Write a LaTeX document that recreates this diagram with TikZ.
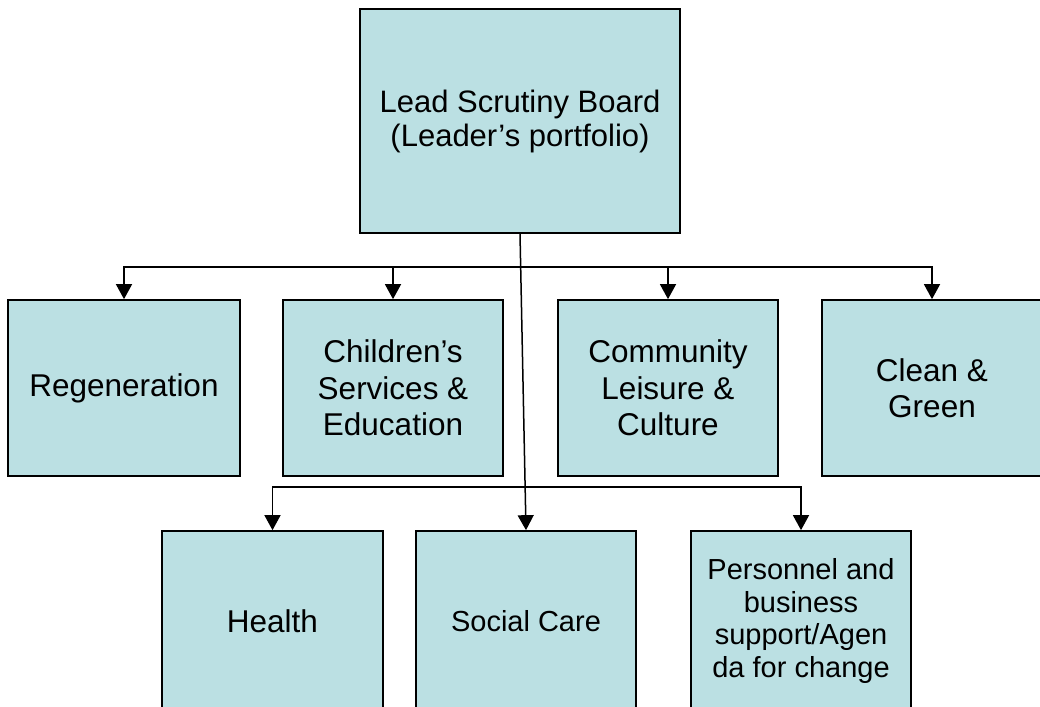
\documentclass[tikz,border=0pt]{standalone}
\usepackage{fontspec}
\setmainfont{Liberation Sans}
\usetikzlibrary{arrows.meta}
\definecolor{boxfill}{RGB}{187,224,227}
\tikzset{
  unitbox/.style={draw=black, line width=1.7pt, fill=boxfill, rectangle,
    minimum width=220pt, minimum height=176pt, align=center, inner sep=0pt,
    font=\fontsize{31.5pt}{36.5pt}\selectfont},
  lowbox/.style={unitbox, minimum height=180pt},
  conn/.style={draw=black, line width=1.5pt,
    -{Triangle[width=16pt,length=15pt]}}
}
\begin{document}
\begin{tikzpicture}[x=1pt,y=-1pt]
  \useasboundingbox (0,0) rectangle (1040,706);
  \clip (0,0) rectangle (1040,706);

  % top board
  \node[unitbox, minimum width=320pt, minimum height=224pt,
        font=\fontsize{31pt}{34pt}\selectfont] (top) at (520,121)
        {Lead Scrutiny Board\\(Leader’s portfolio)};

  % first row of boards
  \node[unitbox, minimum width=232pt] (regen) at (124,388) {Regeneration};
  \node[unitbox] (child) at (393,388) {Children’s\\Services \&\\Education};
  \node[unitbox] (comm) at (668,388) {Community\\Leisure \&\\Culture};
  \node[unitbox] (clean) at (932,388) {Clean \&\\Green};

  % second row of boards (running off the lower edge)
  \node[lowbox, minimum width=221pt] (health) at (272.5,621) {Health};
  \node[lowbox, font=\fontsize{29pt}{34pt}\selectfont] (social) at (526,621) {Social Care};
  \node[lowbox, font=\fontsize{29pt}{32.7pt}\selectfont] (pers) at (801,621)
        {Personnel and\\business\\support/Agen\\da for change};

  % bus levels
  \coordinate (busA) at (0,267);
  \coordinate (busB) at (0,487);

  % connectors
  \draw[conn] (top.south) -- (social.north);
  \draw[conn] (busA -| top.south) -| (regen.north);
  \draw[conn] (busA -| top.south) -| (child.north);
  \draw[conn] (busA -| top.south) -| (comm.north);
  \draw[conn] (busA -| top.south) -| (clean.north);
  \draw[conn] (busB -| social.north) -| (health.north);
  \draw[conn] (busB -| social.north) -| (pers.north);
\end{tikzpicture}
\end{document}
